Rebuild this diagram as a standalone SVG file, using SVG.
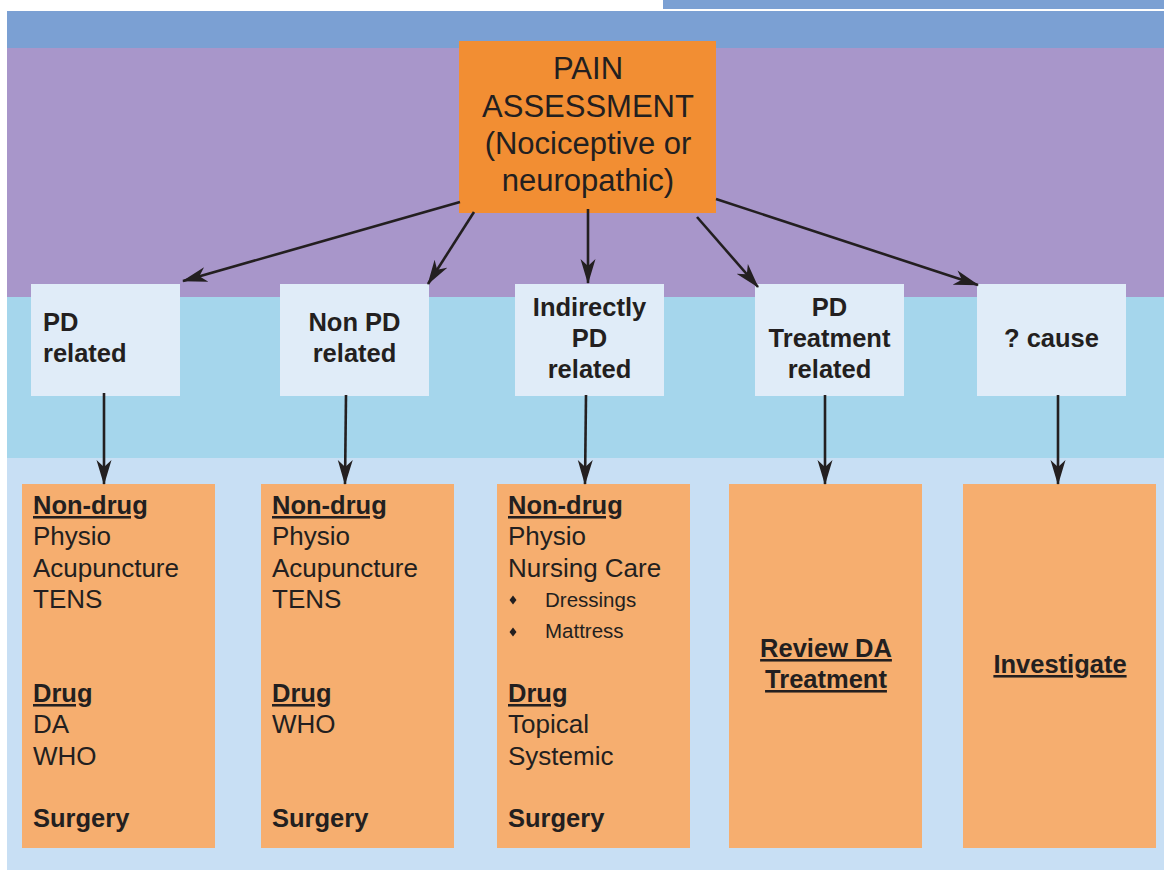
<svg xmlns="http://www.w3.org/2000/svg" width="1164" height="870" viewBox="0 0 1164 870">
<style>
text{font-family:"Liberation Sans",Arial,sans-serif;fill:#231F20}
.t{font-size:31px;text-anchor:middle}
.b{font-size:25.5px;font-weight:bold}
.c{text-anchor:middle}
.r{font-size:26px}
.s{font-size:20.5px}
.u{text-decoration:underline}
.l2{fill:#E0ECF8}
.l3{fill:#F6AE6F}
.con line{stroke:#231F20;stroke-width:2.6;marker-end:url(#ah)}
</style>
<defs>
<marker id="ah" markerUnits="userSpaceOnUse" markerWidth="26" markerHeight="16" refX="24" refY="8" orient="auto" viewBox="0 0 26 16">
<path d="M0,0.5 L25,8 L0,15.5 L7,8 Z" fill="#231F20"/>
</marker>
</defs>
<rect width="1164" height="870" fill="#FFFFFF"/>
<rect x="663" y="0" width="501" height="9" fill="#7BA0D3"/>
<rect x="7" y="11" width="1157" height="37" fill="#7BA0D3"/>
<rect x="7" y="48" width="1157" height="249" fill="#A896CA"/>
<rect x="7" y="297" width="1157" height="161" fill="#A5D6EC"/>
<rect x="7" y="458" width="1157" height="412" fill="#C8DFF4"/>

<g id="pain-assessment">
<rect x="459" y="41" width="257" height="172" fill="#F28E33"/>
<text class="t" x="588" y="79">PAIN</text>
<text class="t" x="588" y="117">ASSESSMENT</text>
<text class="t" x="588" y="154">(Nociceptive or</text>
<text class="t" x="588" y="191">neuropathic)</text>
</g>

<g id="pd-related">
<rect class="l2" x="31" y="284" width="149" height="112"/>
<text class="b" x="43" y="331">PD</text>
<text class="b" x="43" y="362">related</text>
</g>
<g id="non-pd-related">
<rect class="l2" x="280" y="284" width="149" height="112"/>
<text class="b c" x="354.5" y="331">Non PD</text>
<text class="b c" x="354.5" y="362">related</text>
</g>
<g id="indirectly-pd-related">
<rect class="l2" x="515" y="284" width="149" height="112"/>
<text class="b c" x="589.5" y="316">Indirectly</text>
<text class="b c" x="589.5" y="347">PD</text>
<text class="b c" x="589.5" y="378">related</text>
</g>
<g id="pd-treatment-related">
<rect class="l2" x="755" y="284" width="149" height="112"/>
<text class="b c" x="829.5" y="316">PD</text>
<text class="b c" x="829.5" y="347">Treatment</text>
<text class="b c" x="829.5" y="378">related</text>
</g>
<g id="unknown-cause">
<rect class="l2" x="977" y="284" width="149" height="112"/>
<text class="b c" x="1051.5" y="347">? cause</text>
</g>

<g id="tx-pd-related">
<rect class="l3" x="22" y="484" width="193" height="364"/>
<text class="b u" x="33" y="514">Non-drug</text>
<text class="r" x="33" y="545">Physio</text>
<text class="r" x="33" y="577">Acupuncture</text>
<text class="r" x="33" y="608">TENS</text>
<text class="b u" x="33" y="702">Drug</text>
<text class="r" x="33" y="733">DA</text>
<text class="r" x="33" y="765">WHO</text>
<text class="b" x="33" y="827">Surgery</text>
</g>
<g id="tx-non-pd-related">
<rect class="l3" x="261" y="484" width="193" height="364"/>
<text class="b u" x="272" y="514">Non-drug</text>
<text class="r" x="272" y="545">Physio</text>
<text class="r" x="272" y="577">Acupuncture</text>
<text class="r" x="272" y="608">TENS</text>
<text class="b u" x="272" y="702">Drug</text>
<text class="r" x="272" y="733">WHO</text>
<text class="b" x="272" y="827">Surgery</text>
</g>
<g id="tx-indirectly-pd-related">
<rect class="l3" x="497" y="484" width="193" height="364"/>
<text class="b u" x="508" y="514">Non-drug</text>
<text class="r" x="508" y="545">Physio</text>
<text class="r" x="508" y="577">Nursing Care</text>
<path d="M513,595.5 L516.5,600 L513,604.5 L509.5,600 Z M513,627.5 L516.5,632 L513,636.5 L509.5,632 Z" fill="#231F20"/>
<text class="s" x="545" y="607">Dressings</text>
<text class="s" x="545" y="638">Mattress</text>
<text class="b u" x="508" y="702">Drug</text>
<text class="r" x="508" y="733">Topical</text>
<text class="r" x="508" y="765">Systemic</text>
<text class="b" x="508" y="827">Surgery</text>
</g>
<g id="tx-pd-treatment-related">
<rect class="l3" x="729" y="484" width="193" height="364"/>
<text class="b u c" x="826" y="657">Review DA</text>
<text class="b u c" x="826" y="688">Treatment</text>
</g>
<g id="tx-unknown-cause">
<rect class="l3" x="963" y="484" width="193" height="364"/>
<text class="b u c" x="1060" y="673">Investigate</text>
</g>

<g id="connectors" class="con">
<line x1="460" y1="202" x2="183" y2="281"/>
<line x1="474" y1="212" x2="428" y2="284"/>
<line x1="588" y1="209" x2="588" y2="283"/>
<line x1="697" y1="217" x2="758" y2="287"/>
<line x1="716" y1="199" x2="978" y2="285"/>
<line x1="104" y1="393" x2="104" y2="484"/>
<line x1="346" y1="395" x2="345" y2="484"/>
<line x1="586" y1="395" x2="585" y2="484"/>
<line x1="825" y1="395" x2="825" y2="484"/>
<line x1="1058" y1="395" x2="1058" y2="484"/>
</g>
</svg>
